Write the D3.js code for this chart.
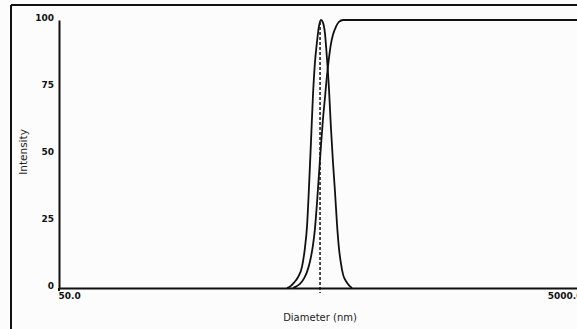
<!DOCTYPE html>
<html>
<head>
<meta charset="utf-8">
<script src="https://cdn.jsdelivr.net/npm/d3@7"></script>
<style>
  html, body { margin: 0; padding: 0; background: #fcfcfc; overflow: hidden; }
  svg { display: block; }
</style>
</head>
<body>
<svg id="chart" width="577" height="329"></svg>
<script>
// Intensity distribution (diameter in nm, intensity in %)
const distDiameter = [372, 382, 396, 410, 425, 436, 444, 452, 460, 468, 476, 485, 493, 502, 511, 520, 529, 539, 548, 558, 568, 578, 588, 599, 610, 626, 643, 660];
const distIntensity = [0, 0.5, 2, 4, 8, 15, 23, 38, 55, 72, 84, 92, 97.5, 100, 99, 95, 86, 74, 60, 47, 36, 24, 15, 9, 5, 2.5, 1, 0];

// Cumulative curve
const cumDiameter = [392, 403, 417, 432, 444, 456, 468, 476, 485, 493, 502, 511, 520, 529, 539, 548, 558, 573, 588, 610, 5000];
const cumIntensity = [0, 0.5, 1.5, 3.5, 6, 10, 16, 22, 32, 42, 53, 63, 71, 79, 86, 91, 94.5, 97.5, 99.3, 100, 100];

// Mean diameter marker
const meanDiameter = [498];

// Axis ticks
const yTicks = [0, 25, 50, 75, 100];
const xTicks = [50, 5000];
const xTickLabels = ["50.0", "5000.0"];

const svg = d3.select("#chart");

const x = d3.scaleLog().domain([50, 5000]).range([59, 582]);
const y = d3.scaleLinear().domain([0, 100]).range([288, 20]);

// outer frame (top and left edges visible)
svg.append("line").attr("x1", 11).attr("x2", 577).attr("y1", 5).attr("y2", 5)
  .attr("stroke", "#111").attr("stroke-width", 2);
svg.append("line").attr("x1", 11).attr("x2", 11).attr("y1", 5).attr("y2", 329)
  .attr("stroke", "#111").attr("stroke-width", 2);

// Y axis
const yAxis = svg.append("g")
  .attr("transform", "translate(59,0)")
  .call(d3.axisLeft(y).tickValues(yTicks).tickSize(0).tickSizeOuter(0).tickPadding(5));
yAxis.select(".domain").attr("stroke", "#111").attr("stroke-width", 2);
yAxis.selectAll("text")
  .attr("font-family", "DejaVu Sans")
  .attr("font-size", 9)
  .attr("font-weight", "bold")
  .attr("fill", "#111")
  .attr("dy", "0.1em");

// small extension of the y axis below zero
svg.append("line").attr("x1", 59).attr("x2", 59).attr("y1", y(0)).attr("y2", y(0) + 3)
  .attr("stroke", "#111").attr("stroke-width", 2);

// X axis
const xAxis = svg.append("g")
  .attr("transform", "translate(0,288)")
  .call(d3.axisBottom(x).tickValues(xTicks).tickSize(0).tickSizeOuter(0).tickPadding(5)
    .tickFormat((d, i) => xTickLabels[i]));
xAxis.select(".domain").attr("stroke", "#111").attr("stroke-width", 2);
xAxis.selectAll("text")
  .attr("font-family", "DejaVu Sans")
  .attr("font-size", 9)
  .attr("font-weight", "bold")
  .attr("fill", "#111")
  .attr("text-anchor", (d, i) => i === 0 ? "start" : "end")
  .attr("dx", (d, i) => i === 0 ? -1 : 0);

// axis titles
svg.append("text")
  .attr("x", 320).attr("y", 321)
  .attr("text-anchor", "middle")
  .attr("font-family", "DejaVu Sans")
  .attr("font-size", 10)
  .attr("fill", "#222")
  .text("Diameter (nm)");

svg.append("text")
  .attr("transform", "translate(27,152) rotate(-90)")
  .attr("text-anchor", "middle")
  .attr("font-family", "DejaVu Sans")
  .attr("font-size", 10.5)
  .attr("fill", "#222")
  .text("Intensity");

const line = d3.line()
  .x(d => x(d[0]))
  .y(d => y(d[1]))
  .curve(d3.curveMonotoneX);

// mean dashed line
svg.selectAll(".mean").data(meanDiameter).enter().append("line")
  .attr("x1", d => x(d)).attr("x2", d => x(d))
  .attr("y1", y(100) + 2).attr("y2", y(0) + 5)
  .attr("stroke", "#111").attr("stroke-width", 1.5)
  .attr("stroke-dasharray", "3,2");

svg.append("path")
  .datum(d3.zip(distDiameter, distIntensity))
  .attr("d", line)
  .attr("fill", "none").attr("stroke", "#111").attr("stroke-width", 1.8);

svg.append("path")
  .datum(d3.zip(cumDiameter, cumIntensity))
  .attr("d", line)
  .attr("fill", "none").attr("stroke", "#111").attr("stroke-width", 1.8);
</script>
</body>
</html>
